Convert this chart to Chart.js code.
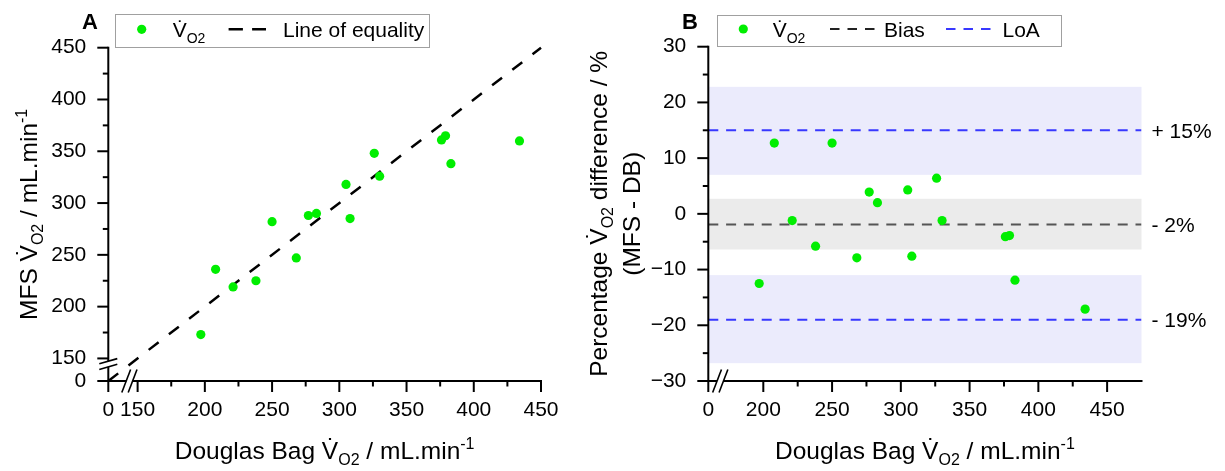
<!DOCTYPE html>
<html><head><meta charset="utf-8">
<script src="https://cdn.jsdelivr.net/npm/chart.js@4.4.1/dist/chart.umd.min.js"></script>
<style>
html,body{margin:0;padding:0;background:#fff;width:1225px;height:471px;overflow:hidden;}
#wrap{position:relative;width:1225px;height:471px;}
canvas{position:absolute;top:0;left:0;}
</style></head><body>
<div id="wrap"><canvas id="cA" width="1225" height="471"></canvas><canvas id="cB" width="1225" height="471"></canvas></div>
<script>
// ---------------- data ----------------
const douglasBag = [197, 208, 221, 238, 250, 268, 277, 283, 305, 308, 326, 330, 376, 379, 383, 434];
const mfsVO2     = [173, 236, 219, 225, 282, 247, 288, 290, 318, 285, 348, 326, 361, 365, 338, 360];
const pctDiff    = [-12.5, 12.7, -1.2, -5.8, 12.7, -7.9, 3.9, 2.0, 4.3, -7.6, 6.4, -1.2, -4.1, -3.9, -11.9, -17.1];
const equalityLine = [0, 450];
const biasValue = -1.9;
const loaValues = [15, -19];
const biasBand = [-6.4, 2.7];
const upperLoaBand = [7, 22.8];
const lowerLoaBand = [-26.8, -11];
const annotLabels = ['+ 15%', '- 2%', '- 19%'];
const leftXMajor = [0, 150, 200, 250, 300, 350, 400, 450];
const leftXMinor = [175, 225, 275, 325, 375, 425];
const leftYMajor = [0, 150, 200, 250, 300, 350, 400, 450];
const leftYMinor = [175, 225, 275, 325, 375, 425];
const rightXMajor = [0, 200, 250, 300, 350, 400, 450];
const rightXMinor = [225, 275, 325, 375, 425];
const rightXRange = [0, 475];
const rightYMajor = [-30, -20, -10, 0, 10, 20, 30];
const rightYMinor = [-25, -15, -5, 5, 15, 25];

// ---------------- styling ----------------
const FONT = "'Liberation Sans', Arial, Helvetica, sans-serif";
Chart.defaults.font.family = FONT;
Chart.defaults.color = '#000';
const GREEN = '#00EE00';
const BLUE = '#3838FF';
const GRAY_LINE = '#555555';
const LAV = 'rgb(235,235,252)';
const GRAY_BAND = 'rgb(235,235,235)';
const TICK_FS = 21, TITLE_FS = 24.5, SUB_FS = 16, LEG_FS = 21, LEG_SUB = 14, LETTER_FS = 22;

// broken-axis mapping (values below the break are compressed)
function mapBreak(v, lo, zeroShown) { return v >= lo ? v : zeroShown + v * (lo - zeroShown) / lo; }
const L_LO = 150, L_ZERO = 128.2;
const R_LO = 180, R_ZERO = 160;
const bl = v => mapBreak(v, L_LO, L_ZERO);
const br = v => mapBreak(v, R_LO, R_ZERO);
const minus = v => (v < 0 ? '\u2212' + Math.abs(v) : String(v));

function rich(ctx, parts, x, y, align) {
  let w = 0;
  parts.forEach(p => { ctx.font = (p.b ? 'bold ' : '') + p.s + 'px ' + FONT; p.w = ctx.measureText(p.t).width; w += p.w; });
  let cx = align === 'center' ? x - w / 2 : x;
  ctx.textAlign = 'left'; ctx.textBaseline = 'alphabetic';
  parts.forEach(p => { ctx.font = (p.b ? 'bold ' : '') + p.s + 'px ' + FONT; ctx.fillText(p.t, cx, y + (p.dy || 0)); cx += p.w; });
}
function line(ctx, x1, y1, x2, y2) { ctx.beginPath(); ctx.moveTo(x1, y1); ctx.lineTo(x2, y2); ctx.stroke(); }

function drawAxes(chart, cfg) {
  const ctx = chart.ctx, a = chart.chartArea, xs = chart.scales.x, ys = chart.scales.y;
  const L = a.left, B = a.bottom, T = a.top, R = a.right;
  ctx.save();
  ctx.strokeStyle = '#000'; ctx.lineWidth = 2; ctx.lineCap = 'butt';
  if (cfg.yBreak != null) {
    const yb = ys.getPixelForValue(cfg.yBreak), g = 2.8;
    line(ctx, L, T - 1, L, yb - g); line(ctx, L, yb + g, L, B + 1);
    ctx.lineWidth = 1.6;
    [yb - g, yb + g].forEach(yc => line(ctx, L - 9, yc + 2.6, L + 9, yc - 2.6));
    ctx.lineWidth = 2;
  } else line(ctx, L, T - 1, L, B + 1);
  if (cfg.xBreak != null) {
    const xb = xs.getPixelForValue(cfg.xBreak), g = 3.2;
    line(ctx, L - 1, B, xb - g, B); line(ctx, xb + g, B, R + 1, B);
    ctx.lineWidth = 1.6;
    [xb - g, xb + g].forEach(xc => line(ctx, xc - 4.4, B + 11.5, xc + 4.4, B - 11.5));
    ctx.lineWidth = 2;
  } else line(ctx, L - 1, B, R + 1, B);
  cfg.xMajor.forEach(v => { const x = xs.getPixelForValue(v); line(ctx, x, B, x, B + 11); });
  cfg.xMinor.forEach(v => { const x = xs.getPixelForValue(v); line(ctx, x, B, x, B + 5.5); });
  cfg.yMajor.forEach(v => { const y = ys.getPixelForValue(v); line(ctx, L, y, L - 11, y); });
  cfg.yMinor.forEach(v => { const y = ys.getPixelForValue(v); line(ctx, L, y, L - 5.5, y); });
  ctx.restore();
}

function dashSample(ctx, x1, x2, y, color, dash, w) {
  ctx.save(); ctx.strokeStyle = color; ctx.lineWidth = w; ctx.setLineDash(dash);
  line(ctx, x1, y, x2, y); ctx.restore();
}
function dot(ctx, x, y, r) { ctx.save(); ctx.fillStyle = GREEN; ctx.beginPath(); ctx.arc(x, y, r, 0, Math.PI * 2); ctx.fill(); ctx.restore(); }
function vo2Label(ctx, x, y) {
  ctx.fillStyle = '#000';
  rich(ctx, [{ t: 'V\u0307', s: LEG_FS }, { t: 'O2', s: LEG_SUB, dy: 6 }], x, y, 'left');
}
function xTitle(ctx, a) {
  rich(ctx, [{ t: 'Douglas Bag V\u0307', s: TITLE_FS }, { t: 'O2', s: SUB_FS, dy: 6 }, { t: ' / mL.min', s: TITLE_FS }, { t: '-1', s: SUB_FS, dy: -10 }],
    (a.left + a.right) / 2, 459, 'center');
}

// ---------------- Panel A ----------------
const decoA = {
  id: 'decoA',
  afterDraw(chart) {
    const ctx = chart.ctx, a = chart.chartArea;
    drawAxes(chart, {
      xMajor: leftXMajor.map(bl), xMinor: leftXMinor, yMajor: leftYMajor.map(bl), yMinor: leftYMinor,
      xBreak: 143.9, yBreak: 144.6
    });
    ctx.save();
    ctx.fillStyle = '#000';
    rich(ctx, [{ t: 'A', s: LETTER_FS, b: true }], 82, 28.8, 'left');
    ctx.strokeStyle = '#a0a0a0'; ctx.lineWidth = 1;
    ctx.fillStyle = '#fff'; ctx.fillRect(115, 14, 315, 34);
    ctx.strokeRect(115.5, 14.5, 314, 33);
    dot(ctx, 141.7, 29.3, 4.6);
    vo2Label(ctx, 172.7, 37);
    dashSample(ctx, 228.6, 266, 29.3, '#000', [14.3, 9.2], 2.5);
    ctx.fillStyle = '#000';
    rich(ctx, [{ t: 'Line of equality', s: LEG_FS }], 283, 37, 'left');
    xTitle(ctx, a);
    ctx.translate(37, (a.top + a.bottom) / 2);
    ctx.rotate(-Math.PI / 2);
    rich(ctx, [{ t: 'MFS V\u0307', s: TITLE_FS }, { t: 'O2', s: SUB_FS, dy: 6 }, { t: ' / mL.min', s: TITLE_FS }, { t: '-1', s: SUB_FS, dy: -10 }], 0, 0, 'center');
    ctx.restore();
  }
};

new Chart(document.getElementById('cA'), {
  type: 'scatter',
  data: {
    datasets: [
      { data: douglasBag.map((x, i) => ({ x: bl(x), y: bl(mfsVO2[i]) })), backgroundColor: GREEN, borderWidth: 0, pointRadius: 4.6, pointHoverRadius: 4.6, order: 0 },
      { data: equalityLine.map(v => ({ x: bl(v), y: bl(v) })), showLine: true, borderColor: '#000', borderWidth: 2.5,
        borderDash: [12.5, 13], pointRadius: 0, fill: false, clip: false, order: 1 }
    ]
  },
  options: {
    responsive: false, animation: false, devicePixelRatio: 1,
    layout: { padding: { left: 0, right: 1225 - 541, top: 47.7, bottom: 0 } },
    plugins: { legend: { display: false }, tooltip: { enabled: false } },
    scales: {
      x: {
        type: 'linear', min: bl(0), max: 450,
        grid: { display: false, drawTicks: false }, border: { display: false },
        afterFit: s => { s.height = 90; },
        afterBuildTicks: s => { s.ticks = leftXMajor.map(v => ({ value: bl(v) })); },
        ticks: { padding: 17, autoSkip: false, maxRotation: 0, font: { size: TICK_FS }, callback: (v, i) => String(leftXMajor[i]) }
      },
      y: {
        type: 'linear', min: bl(0), max: 450,
        grid: { display: false, drawTicks: false }, border: { display: false },
        afterFit: s => { s.width = 108.3; },
        afterBuildTicks: s => { s.ticks = leftYMajor.map(v => ({ value: bl(v) })); },
        ticks: { padding: 22, autoSkip: false, font: { size: TICK_FS }, callback: (v, i) => String(leftYMajor[i]) }
      }
    }
  },
  plugins: [decoA]
});

// ---------------- Panel B ----------------
const decoB = {
  id: 'decoB',
  beforeDatasetsDraw(chart) {
    const ctx = chart.ctx, a = chart.chartArea, ys = chart.scales.y;
    ctx.save();
    [[upperLoaBand, LAV], [biasBand, GRAY_BAND], [lowerLoaBand, LAV]].forEach(([b, c]) => {
      const y1 = ys.getPixelForValue(b[1]), y2 = ys.getPixelForValue(b[0]);
      ctx.fillStyle = c; ctx.fillRect(a.left, y1, a.right - a.left, y2 - y1);
    });
    ctx.restore();
  },
  afterDraw(chart) {
    const ctx = chart.ctx, a = chart.chartArea, ys = chart.scales.y;
    drawAxes(chart, {
      xMajor: rightXMajor.map(br), xMinor: rightXMinor, yMajor: rightYMajor, yMinor: rightYMinor,
      xBreak: 168.7, yBreak: null
    });
    ctx.save();
    ctx.fillStyle = '#000';
    rich(ctx, [{ t: 'B', s: LETTER_FS, b: true }], 682, 28.8, 'left');
    ctx.strokeStyle = '#a0a0a0'; ctx.lineWidth = 1;
    ctx.fillStyle = '#fff'; ctx.fillRect(717, 15, 344, 32);
    ctx.strokeRect(717.5, 15.5, 344, 31);
    dot(ctx, 743.3, 29, 4.6);
    vo2Label(ctx, 772.7, 36.8);
    dashSample(ctx, 830, 875, 29, '#222', [9.5, 8], 2);
    ctx.fillStyle = '#000';
    rich(ctx, [{ t: 'Bias', s: LEG_FS }], 884, 36.8, 'left');
    dashSample(ctx, 946, 993, 29, BLUE, [9.5, 8], 2);
    ctx.fillStyle = '#000';
    rich(ctx, [{ t: 'LoA', s: LEG_FS }], 1002.5, 36.8, 'left');
    [loaValues[0], biasValue, loaValues[1]].forEach((v, i) => {
      ctx.font = '21px ' + FONT; ctx.textAlign = 'left'; ctx.textBaseline = 'middle';
      ctx.fillText(annotLabels[i], a.right + 10, ys.getPixelForValue(v) + 1.5);
    });
    xTitle(ctx, a);
    const cy = (a.top + a.bottom) / 2;
    ctx.save();
    ctx.translate(607, cy); ctx.rotate(-Math.PI / 2);
    rich(ctx, [{ t: 'Percentage V\u0307', s: TITLE_FS }, { t: 'O2', s: SUB_FS, dy: 6 }, { t: ' difference / %', s: TITLE_FS }], 0, 0, 'center');
    ctx.restore();
    ctx.save();
    ctx.translate(640, cy); ctx.rotate(-Math.PI / 2);
    rich(ctx, [{ t: '(MFS - DB)', s: TITLE_FS }], 0, 0, 'center');
    ctx.restore();
    ctx.restore();
  }
};

const xEnds = rightXRange.map(br);
new Chart(document.getElementById('cB'), {
  type: 'scatter',
  data: {
    datasets: [
      { data: douglasBag.map((x, i) => ({ x: br(x), y: pctDiff[i] })), backgroundColor: GREEN, borderWidth: 0, pointRadius: 4.6, pointHoverRadius: 4.6, order: 0 },
      { data: xEnds.map(x => ({ x, y: biasValue })), showLine: true, borderColor: GRAY_LINE, borderWidth: 2, borderDash: [10, 7.8], pointRadius: 0, order: 1 },
      ...loaValues.map(v => ({ data: xEnds.map(x => ({ x, y: v })), showLine: true, borderColor: BLUE, borderWidth: 2, borderDash: [10, 7.8], pointRadius: 0, order: 1 }))
    ]
  },
  options: {
    responsive: false, animation: false, devicePixelRatio: 1,
    layout: { padding: { left: 0, right: 1225 - 1141.5, top: 46.7, bottom: 0 } },
    plugins: { legend: { display: false }, tooltip: { enabled: false } },
    scales: {
      x: {
        type: 'linear', min: br(rightXRange[0]), max: rightXRange[1],
        grid: { display: false, drawTicks: false }, border: { display: false },
        afterFit: s => { s.height = 90; },
        afterBuildTicks: s => { s.ticks = rightXMajor.map(v => ({ value: br(v) })); },
        ticks: { padding: 17, autoSkip: false, maxRotation: 0, font: { size: TICK_FS }, callback: (v, i) => String(rightXMajor[i]) }
      },
      y: {
        type: 'linear', min: -30, max: 30,
        grid: { display: false, drawTicks: false }, border: { display: false },
        afterFit: s => { s.width = 708.3; },
        afterBuildTicks: s => { s.ticks = rightYMajor.map(v => ({ value: v })); },
        ticks: { padding: 22, autoSkip: false, font: { size: TICK_FS }, callback: (v, i) => minus(rightYMajor[i]) }
      }
    }
  },
  plugins: [decoB]
});
</script>
</body></html>
